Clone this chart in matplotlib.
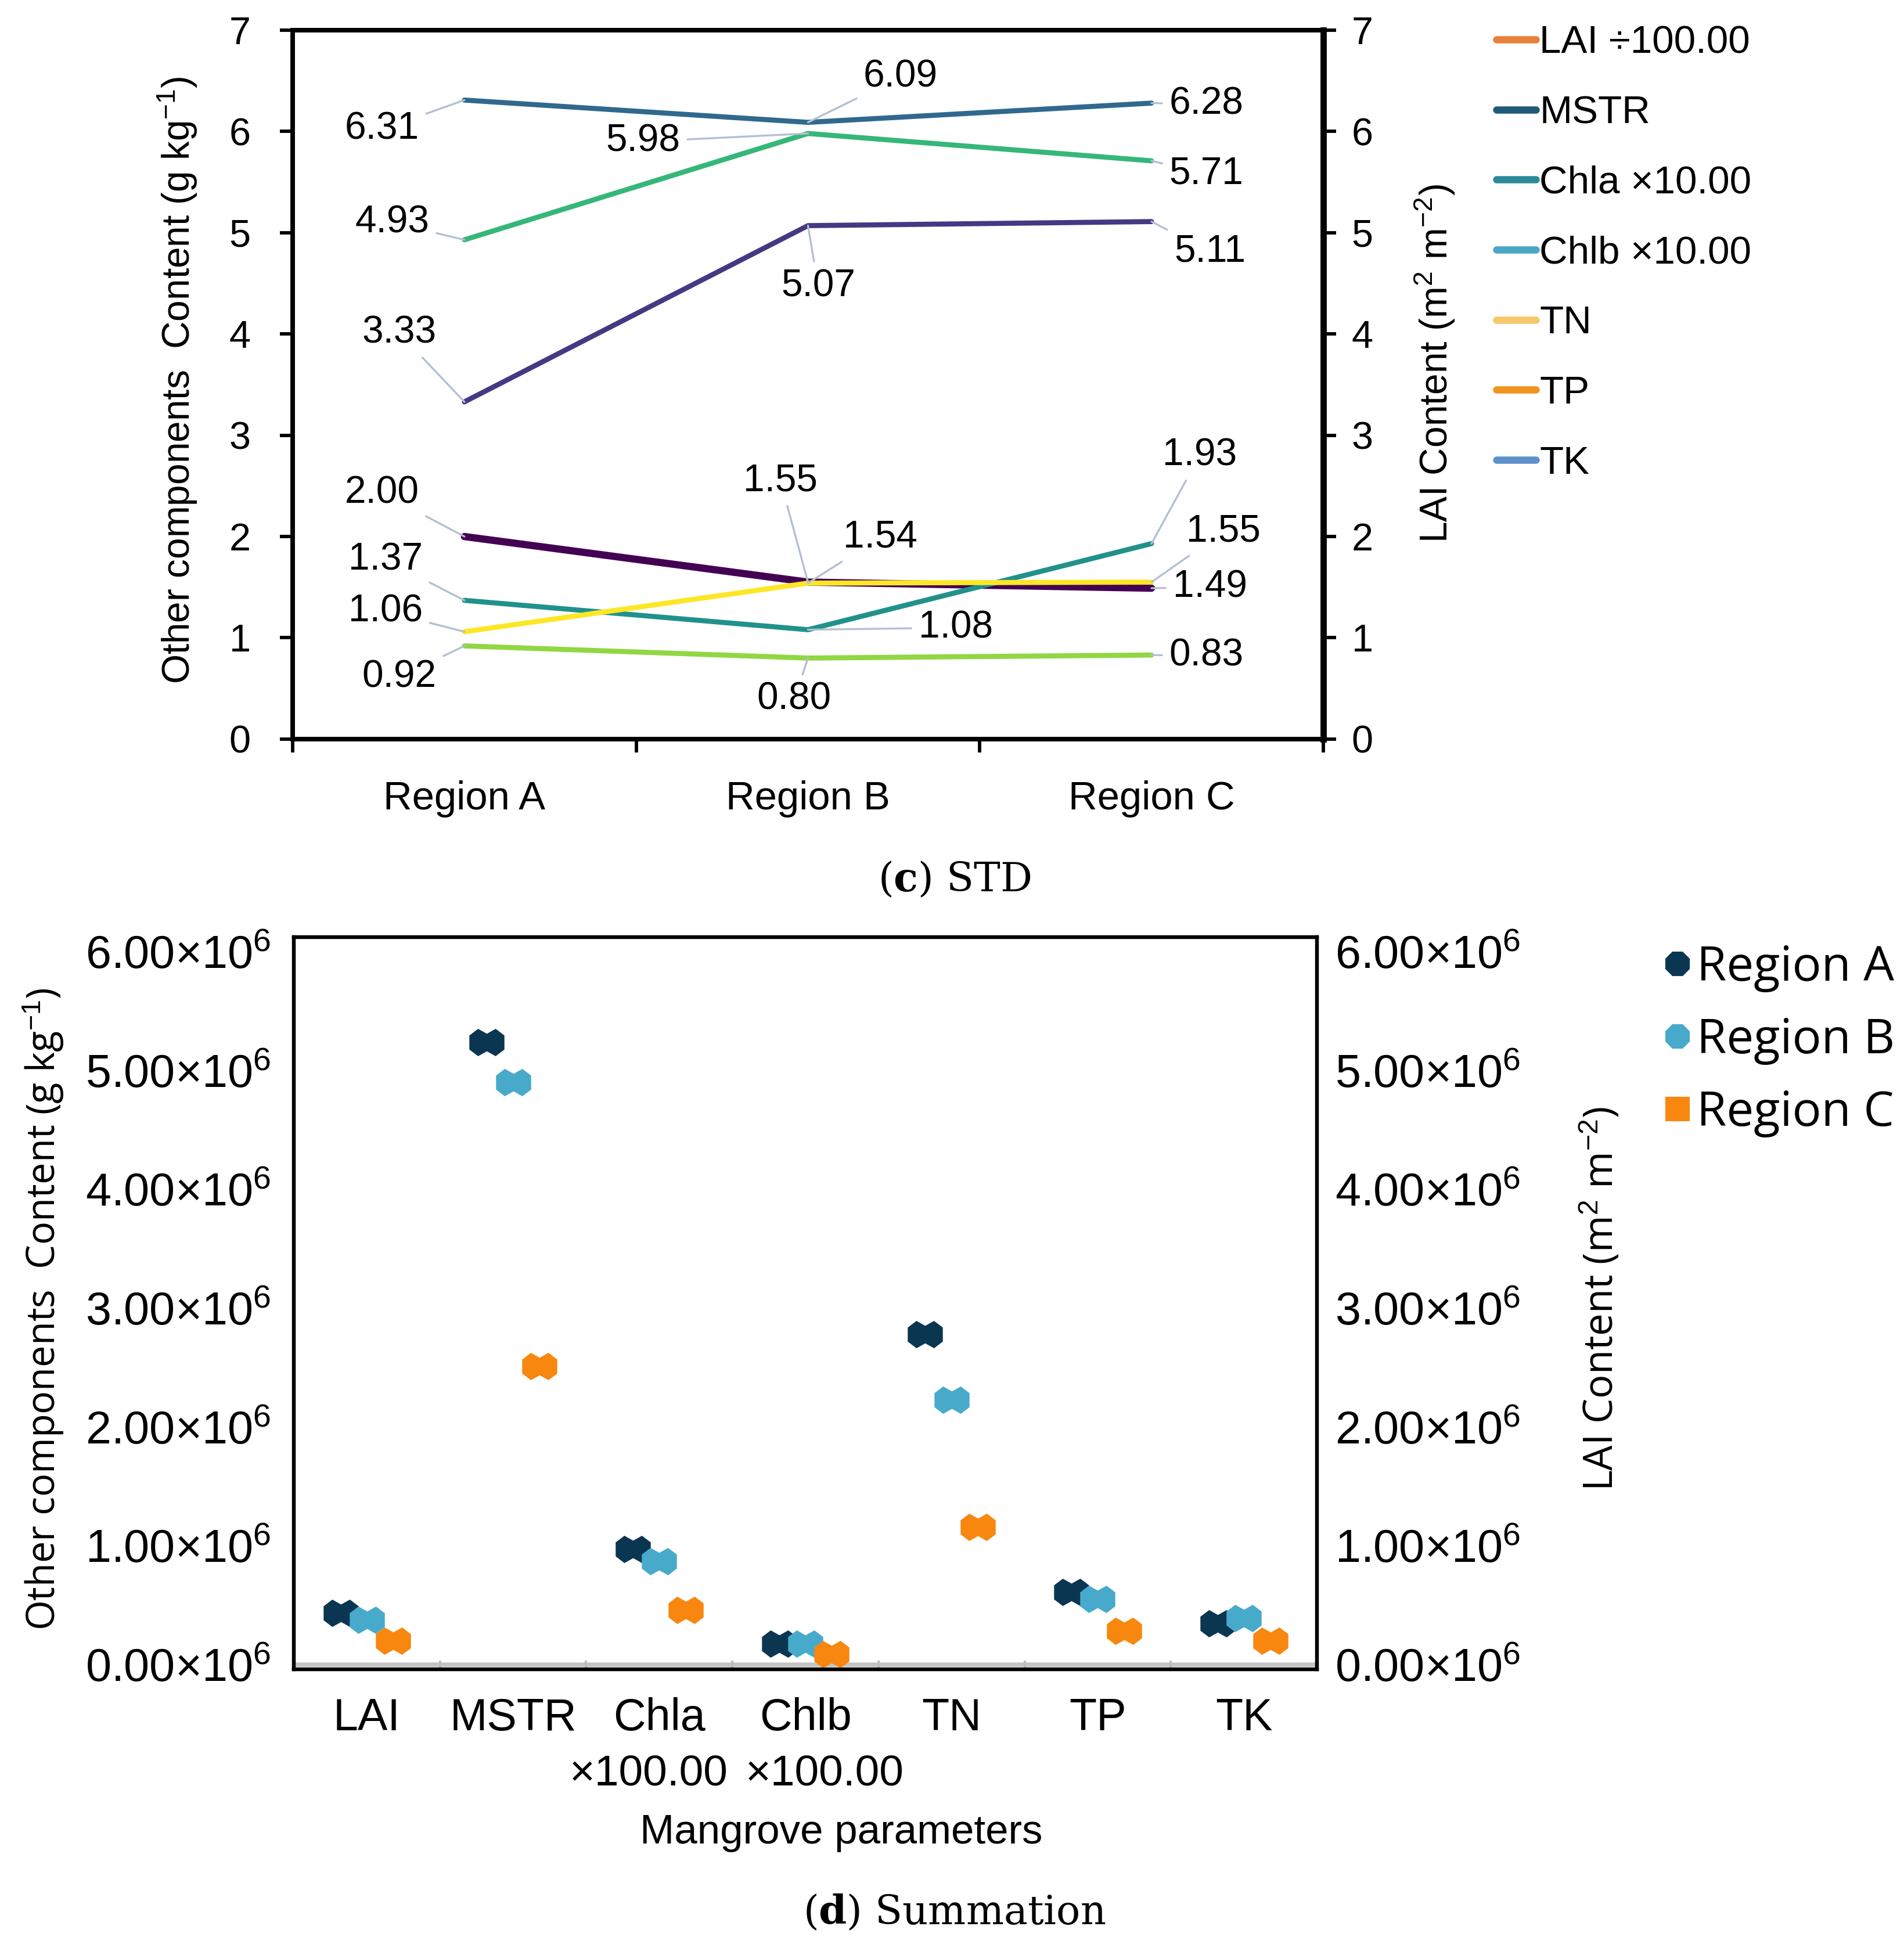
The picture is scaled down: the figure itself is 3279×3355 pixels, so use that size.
import numpy as np
import matplotlib
matplotlib.use('Agg')
import matplotlib.pyplot as plt
from matplotlib import font_manager as fm
from matplotlib.lines import Line2D
from matplotlib.path import Path
from matplotlib.ticker import FuncFormatter
import matplotlib.transforms as mtransforms

# ---------------- data: (c) STD ----------------
regions = ['Region A', 'Region B', 'Region C']
std_lai = [2.00, 1.55, 1.49]
std_mstr = [3.33, 5.07, 5.11]
std_chla = [6.31, 6.09, 6.28]
std_chlb = [1.37, 1.08, 1.93]
std_tn = [4.93, 5.98, 5.71]
std_tp = [0.92, 0.80, 0.83]
std_tk = [1.06, 1.54, 1.55]
std_legend_labels = ['LAI ÷100.00', 'MSTR', 'Chla ×10.00', 'Chlb ×10.00', 'TN', 'TP', 'TK']

# ---------------- data: (d) Summation ----------------
params = ['LAI', 'MSTR', 'Chla', 'Chlb', 'TN', 'TP', 'TK']
param_scale = ['', '', '×100.00', '×100.00', '', '', '']
sum_region_a = [0.435e6, 5.24e6, 0.97e6, 0.175e6, 2.78e6, 0.61e6, 0.345e6]
sum_region_b = [0.378e6, 4.90e6, 0.87e6, 0.175e6, 2.23e6, 0.55e6, 0.39e6]
sum_region_c = [0.20e6, 2.51e6, 0.457e6, 0.088e6, 1.16e6, 0.285e6, 0.198e6]
sum_regions = ['Region A', 'Region B', 'Region C']

# ---------------- styles ----------------
names = {f.name for f in fm.fontManager.ttflist}
if 'Liberation Sans Narrow' in names:
    TOPFONT, SC = 'Liberation Sans Narrow', 1.0
else:
    TOPFONT, SC = 'Liberation Sans', 0.83
ARIAL = 'Liberation Sans'
SEGOE = 'Open Sans'

plt.rcParams['font.family'] = [ARIAL, 'DejaVu Sans']
plt.rcParams['mathtext.fontset'] = 'custom'
plt.rcParams['mathtext.rm'] = 'Liberation Sans'
plt.rcParams['mathtext.it'] = 'Liberation Sans:italic'
plt.rcParams['mathtext.bf'] = 'DejaVu Serif:bold'

line_colors = ['#440154', '#443983', '#31688e', '#21918c', '#35b779', '#90d743', '#fde725']
line_widths = [3.0, 2.1, 2.1, 2.1, 2.1, 2.1, 2.1]
legend_colors = ['#e8803a', '#1f5b79', '#2b8a9a', '#4aa8c6', '#f6c86b', '#f0941f', '#5e91cc']
label_offsets = [
    [(-0.24, 0.43), (-0.08, 1.00), (0.17, 0.01)],
    [(-0.19, 0.68), (0.03, -0.60), (0.17, -0.30)],
    [(-0.24, -0.29), (0.27, 0.45), (0.16, -0.01)],
    [(-0.23, 0.40), (0.43, 0.02), (0.14, 0.87)],
    [(-0.21, 0.17), (-0.48, -0.08), (0.16, -0.13)],
    [(-0.19, -0.31), (-0.04, -0.41), (0.16, -0.01)],
    [(-0.23, 0.20), (0.21, 0.45), (0.21, 0.50)],
]
region_colors = ['#0b3652', '#48aacb', '#f7870f']
region_offsets = [-0.18, 0.0, 0.18]
scale_label_dx = [0, 0, -0.07, 0.13, 0, 0, 0]

fig = plt.figure(figsize=(3279 / 300, 3355 / 300), dpi=300)

# ======================= (c) STD =======================
ax1 = fig.add_axes([0.1537, 0.6206, 0.5413, 0.3639])
ax1r = ax1.twinx()
x = np.arange(len(regions))
std_series = [std_lai, std_mstr, std_chla, std_chlb, std_tn, std_tp, std_tk]
for vals, col, lw, offs in zip(std_series, line_colors, line_widths, label_offsets):
    ax1.plot(x, vals, color=col, lw=lw, solid_capstyle='round', zorder=3)
    for xi, v, (dx, dy) in zip(x, vals, offs):
        ax1.annotate(f'{v:.2f}', xy=(xi, v), xytext=(xi + dx, v + dy),
                     ha='center', va='center', fontsize=19 * SC, family=TOPFONT,
                     arrowprops=dict(arrowstyle='-', color='#b3bfd4', lw=0.8,
                                     shrinkA=1, shrinkB=0), zorder=4)

ax1.set_xlim(-0.5, 2.5)
ax1.set_ylim(0, 7)
ax1r.set_ylim(0, 7)
ax1.set_yticks(range(8))
ax1r.set_yticks(range(8))
ax1.set_xticks(x)
ax1.set_xticklabels(regions, fontsize=16.5)
ax1.set_xticks([-0.5, 0.5, 1.5, 2.5], minor=True)
ax1.tick_params(axis='x', which='major', length=0, pad=17)
ax1.tick_params(axis='x', which='minor', length=5.5, width=1.4, direction='out')
ax1.tick_params(axis='y', length=5.3, width=1.4, pad=12, labelsize=16)
ax1r.tick_params(axis='y', length=5.3, width=1.4, pad=6.4, labelsize=16)
for a in (ax1, ax1r):
    for s in ('left', 'top', 'bottom'):
        a.spines[s].set_linewidth(1.8)
    a.spines['right'].set_linewidth(2.6)
ax1.spines['right'].set_visible(False)

fig.text(0.0933, 0.805, 'Other components  Content (g kg$^{-1}$)', rotation=90,
         ha='center', va='center', fontsize=19 * SC, family=TOPFONT)
fig.text(0.7536, 0.8134, 'LAI Content (m$^{2}$ m$^{-2}$)', rotation=90,
         ha='center', va='center', fontsize=19 * SC, family=TOPFONT)

handles1 = [Line2D([], [], color=c, lw=3.0, solid_capstyle='round') for c in legend_colors]
fig.legend(handles1, std_legend_labels, loc='upper left', bbox_to_anchor=(0.786, 0.987),
           frameon=False, borderpad=0, borderaxespad=0, handlelength=1.0,
           handletextpad=0.1, labelspacing=0.87,
           prop={'family': TOPFONT, 'size': 19.5 * SC})

fig.text(0.5014, 0.5484, '($\\mathbf{c}$) STD', ha='center', va='center',
         fontsize=16.5, family='DejaVu Serif')

# ======================= (d) Summation =======================
ax2 = fig.add_axes([0.1543, 0.1431, 0.5374, 0.3758])
ax2r = ax2.twinx()
verts = [(-1, -0.4), (-1, 0.4), (-0.5, 0.78), (0, 0.5), (0.5, 0.78), (1, 0.4),
         (1, -0.4), (0.5, -0.78), (0, -0.5), (-0.5, -0.78), (-1, -0.4)]
hexpair = Path(verts, closed=True)
xp = np.arange(len(params))
for vals, col, off in zip([sum_region_a, sum_region_b, sum_region_c], region_colors, region_offsets):
    ax2.plot(xp + off, vals, linestyle='none', marker=hexpair, markersize=14.5,
             color=col, markeredgewidth=0, zorder=3)
ax2.axhline(0, color='#c4c4c4', lw=1.8, zorder=1)
ax2.set_xlim(-0.5, len(params) - 0.5)
ylim2 = (-0.039e6, 6.122e6)
ax2.set_ylim(*ylim2)
ax2r.set_ylim(*ylim2)
yt = np.arange(0, 7e6, 1e6)
fmt = FuncFormatter(lambda v, p: f'{v / 1e6:.2f}×10$^{{6}}$')
for a in (ax2, ax2r):
    a.set_yticks(yt)
    a.yaxis.set_major_formatter(fmt)
    for s in a.spines.values():
        s.set_linewidth(1.5)
ax2.tick_params(axis='y', length=0, pad=9.4, labelsize=19)
ax2r.tick_params(axis='y', length=0, pad=7.5, labelsize=19)
ax2.set_xticks(xp)
ax2.set_xticklabels(params, fontsize=18.5)
ax2.set_xticks(np.arange(0.5, len(params) - 0.5, 1), minor=True)
ax2.tick_params(axis='x', which='major', length=0, pad=11.5)
ax2.tick_params(axis='x', which='minor', length=3.5, width=1.0, direction='in', color='#bdbdbd')
blend = mtransforms.blended_transform_factory(ax2.transData, ax2.transAxes)
for xi, s, dx in zip(xp, param_scale, scale_label_dx):
    if s:
        ax2.text(xi + dx, -0.144, s, transform=blend, ha='center', va='center',
                 fontsize=18)

fig.text(0.0229, 0.3279, 'Other components  Content (g kg$^{-1}$)', rotation=90,
         ha='center', va='center', fontsize=16, family=SEGOE)
fig.text(0.841, 0.3332, 'LAI Content (m$^{2}$ m$^{-2}$)', rotation=90,
         ha='center', va='center', fontsize=16.5, family=SEGOE)
fig.text(0.4419, 0.059, 'Mangrove parameters', ha='center', va='center', fontsize=17)

handles2 = [Line2D([], [], marker='8', color=region_colors[0], linestyle='none', markersize=10),
            Line2D([], [], marker='8', color=region_colors[1], linestyle='none', markersize=10),
            Line2D([], [], marker='s', color=region_colors[2], linestyle='none', markersize=9)]
fig.legend(handles2, sum_regions, loc='upper left', bbox_to_anchor=(0.8734, 0.5153),
           frameon=False, borderpad=0, borderaxespad=0, handlelength=0.6,
           handletextpad=0.1, labelspacing=0.51, prop={'family': SEGOE, 'size': 20})

fig.text(0.5014, 0.0182, '($\\mathbf{d}$) Summation', ha='center', va='center',
         fontsize=16.5, family='DejaVu Serif')

fig.savefig('out.png', dpi=300)
